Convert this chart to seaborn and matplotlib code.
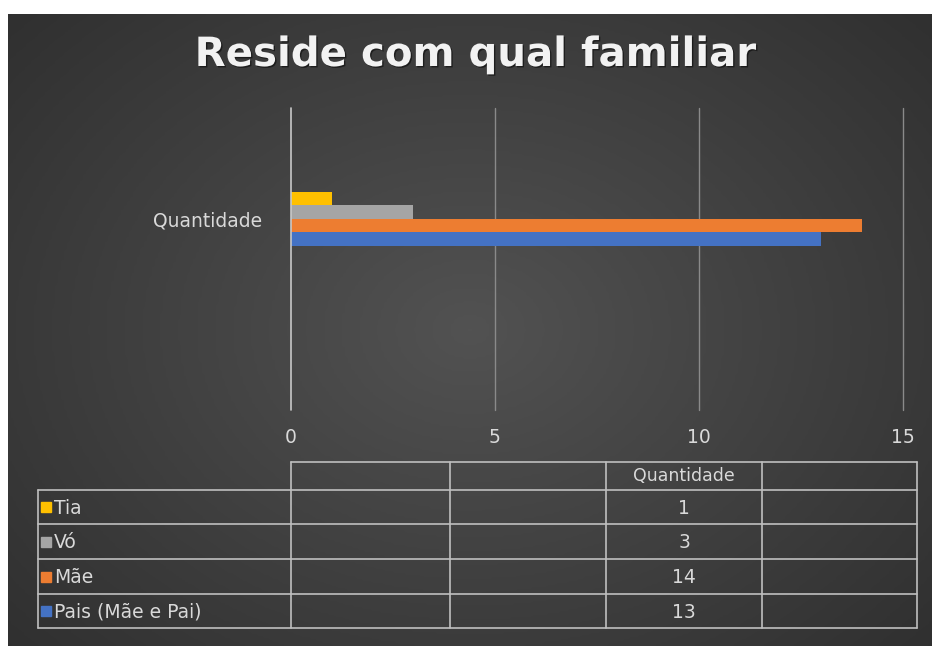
import numpy as np
import pandas as pd
import matplotlib.pyplot as plt
import matplotlib.patheffects as pe
from matplotlib.patches import Rectangle
import seaborn as sns

# dados
familiares = ['Tia', 'Vó', 'Mãe', 'Pais (Mãe e Pai)']
quantidades = [1, 3, 14, 13]
cores = ['#FFC000', '#A5A5A5', '#ED7D31', '#4472C4']
categoria = 'Quantidade'
ticks_x = [0, 5, 10, 15]

sns.set_theme(style='dark')
plt.rcParams['font.family'] = ['DejaVu Sans']

W, H = 932, 646
fig = plt.figure(figsize=(W / 100, H / 100), dpi=100, facecolor='white')

# fundo escuro com degradê radial
bg = fig.add_axes([8 / W, 0, (W - 8) / W, (H - 14) / H], zorder=-2)
yy, xx = np.mgrid[-1:1:300j, -1:1:300j]
r = np.sqrt(xx ** 2 + (yy * 0.9) ** 2)
bg.imshow(r, cmap=plt.matplotlib.colors.LinearSegmentedColormap.from_list(
    'fundo', ['#525252', '#2c2c2c']), vmin=0, vmax=1.5, aspect='auto',
    extent=[0, 1, 0, 1], interpolation='bilinear')
bg.set_axis_off()

# gráfico de barras
left, right, top, bottom = 291, 903, 108, 410
ax = fig.add_axes([left / W, 1 - bottom / H, (right - left) / W, (bottom - top) / H])
ax.patch.set_alpha(0)

df = pd.DataFrame({'familiar': familiares, 'valor': quantidades,
                   'categoria': [categoria] * len(familiares)})
sns.barplot(data=df, x='valor', y='categoria', hue='familiar',
            hue_order=familiares, palette=cores, width=0.8,
            saturation=1, legend=False, linewidth=0, ax=ax, zorder=3)

ax.set_xlim(0, 15)
ax.set_ylim(2.83, -1.644)
ax.set_xticks(ticks_x)
ax.set_xticklabels([str(t) for t in ticks_x])
ax.set_xlabel('')
ax.set_ylabel('')
for s in ax.spines.values():
    s.set_visible(False)
ax.grid(False)
for t in ticks_x[1:]:
    ax.axvline(t, color='#8a8a8a', lw=1, zorder=1, clip_on=False)
ax.axvline(0, color='#c8c8c8', lw=1.2, zorder=4, clip_on=False)
ax.tick_params(axis='x', length=0, pad=13, labelsize=13.5, labelcolor='#d9d9d9')
ax.tick_params(axis='y', length=0, pad=21, labelsize=13.5, labelcolor='#d9d9d9')

# tabela de dados
ov = fig.add_axes([0, 0, 1, 1], zorder=5)
ov.set_xlim(0, W)
ov.set_ylim(H, 0)
ov.set_axis_off()
ov.patch.set_alpha(0)

cols = [38, 291, 450, 606, 762, 917]
rows = [462, 490, 524, 559, 594, 628]
lc = '#bfbfbf'
# linha do cabeçalho
ov.plot([cols[1], cols[-1]], [rows[0], rows[0]], color=lc, lw=1.2)
for y in rows[1:]:
    ov.plot([cols[0], cols[-1]], [y, y], color=lc, lw=1.2)
ov.plot([cols[0], cols[0]], [rows[1], rows[-1]], color=lc, lw=1.2)
for x in cols[1:]:
    ov.plot([x, x], [rows[0], rows[-1]], color=lc, lw=1.2)

ov.text((cols[3] + cols[4]) / 2, (rows[0] + rows[1]) / 2, categoria,
        ha='center', va='center', fontsize=12.5, color='#d9d9d9')
for i, (nome, val, cor) in enumerate(zip(familiares, quantidades, cores)):
    yc = (rows[i + 1] + rows[i + 2]) / 2
    ov.add_patch(Rectangle((41, yc - 5), 10, 10, color=cor))
    ov.text(54, yc + 1, nome, ha='left', va='center', fontsize=13.5, color='#d9d9d9')
    ov.text((cols[3] + cols[4]) / 2, yc + 1, str(val), ha='center', va='center',
            fontsize=13.5, color='#d9d9d9')

# título
fig.text(475 / W, 1 - 55 / H, 'Reside com qual familiar', ha='center', va='center',
         fontsize=29, fontweight='bold', color='#f2f2f2',
         path_effects=[pe.withSimplePatchShadow(offset=(1, -1), shadow_rgbFace='black', alpha=0.5)])

fig.savefig('out.png', dpi=100, facecolor='white')
